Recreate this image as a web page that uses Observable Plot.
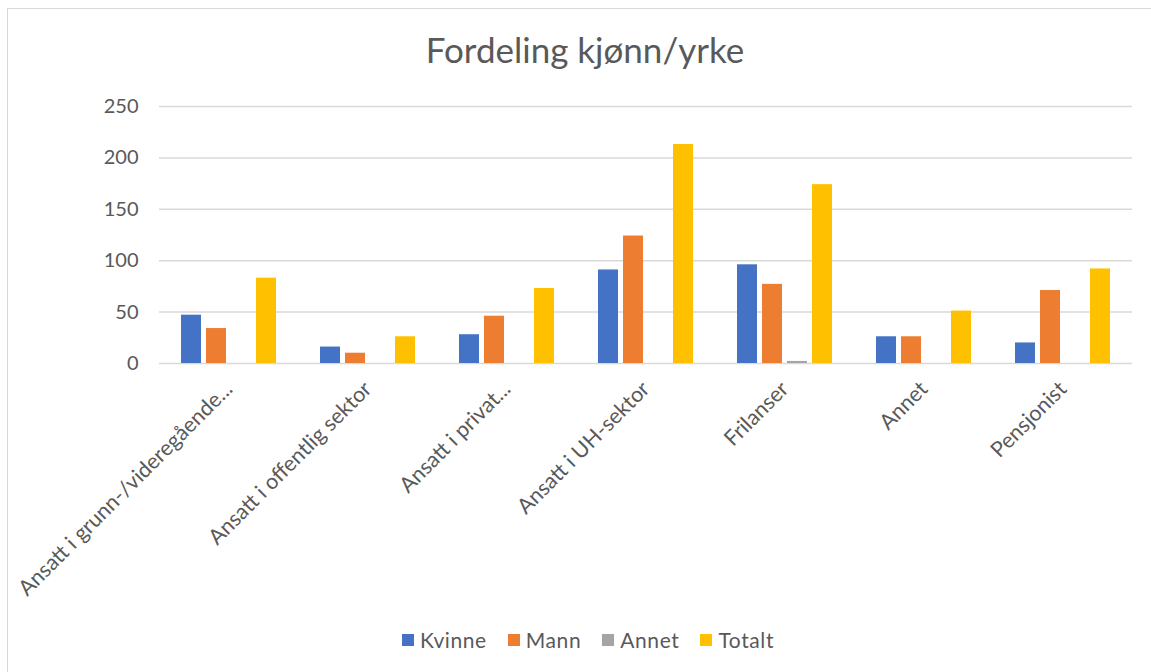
<!DOCTYPE html>
<html>
<head>
<meta charset="utf-8">
<script src="https://cdn.jsdelivr.net/npm/d3@7"></script>
<script src="https://cdn.jsdelivr.net/npm/@observablehq/plot@0.6"></script>
<style>
  html, body { margin: 0; padding: 0; background: #fff; }
  body { width: 1151px; height: 672px; overflow: hidden; position: relative; font-family: Lato, "Open Sans", sans-serif; color: #595959; }
  #frame { position: absolute; left: 7px; top: 8px; width: 1170px; height: 700px; border: 1.5px solid #d9d9d9; box-sizing: border-box; }
  #title { position: absolute; left: 0; width: 1170px; top: 28px; text-align: center; font-size: 35px; color: #595959; }
  #chart { position: absolute; left: 0; top: 75px; }
  #legend { position: absolute; left: 0; width: 1176px; top: 627px; display: flex; justify-content: center; gap: 21px; font-size: 21px; letter-spacing: 0.6px; color: #595959; }
  .item { display: flex; align-items: center; gap: 6px; }
  .sw { width: 12px; height: 12px; display: inline-block; }
</style>
</head>
<body>
<div id="frame"></div>
<div id="title">Fordeling kjønn/yrke</div>
<div id="chart"></div>
<div id="legend"></div>
<script>
const categories = [
  "Ansatt i grunn-/videregående...",
  "Ansatt i offentlig sektor",
  "Ansatt i privat...",
  "Ansatt i UH-sektor",
  "Frilanser",
  "Annet",
  "Pensjonist"
];
const seriesNames = ["Kvinne", "Mann", "Annet", "Totalt"];
const seriesColors = ["#4472c4", "#ed7d31", "#a5a5a5", "#ffc000"];
const kvinne = [47, 16, 28, 91, 96, 26, 20];
const mann   = [34, 10, 46, 124, 77, 26, 71];
const annet  = [0, 0, 0, 0, 2, 0, 0];
const totalt = [83, 26, 73, 213, 174, 51, 92];
const yTicks = [0, 50, 100, 150, 200, 250];

const seriesValues = [kvinne, mann, annet, totalt];
const data = [];
categories.forEach((c, i) => {
  seriesNames.forEach((s, j) => {
    data.push({category: c, series: s, value: seriesValues[j][i]});
  });
});

const chart = Plot.plot({
  width: 1151,
  height: 528,
  marginLeft: 158,
  marginRight: 19,
  marginTop: 31,
  marginBottom: 240,
  style: {fontFamily: "Lato, 'Open Sans', sans-serif", fontSize: "20px", color: "#595959", background: "transparent", overflow: "visible"},
  fx: {domain: categories, padding: 0, label: null, tickSize: 0, tickPadding: 22, tickRotate: -45},
  x: {domain: seriesNames, paddingInner: 0.21, paddingOuter: 0.85, axis: null},
  y: {domain: [0, 250], ticks: yTicks, label: null, tickSize: 0, tickPadding: 21},
  color: {domain: seriesNames, range: seriesColors},
  marks: [
    Plot.ruleY(yTicks, {stroke: "#d9d9d9", strokeWidth: 1.5}),
    Plot.barY(data, {fx: "category", x: "series", y: "value", fill: "series"})
  ]
});
chart.querySelectorAll('[aria-label="fx-axis tick label"] text').forEach(t => t.style.fontSize = "21.5px");
document.getElementById("chart").appendChild(chart);

const legend = document.getElementById("legend");
seriesNames.forEach((s, j) => {
  const item = document.createElement("div");
  item.className = "item";
  const sw = document.createElement("span");
  sw.className = "sw";
  sw.style.background = seriesColors[j];
  const t = document.createElement("span");
  t.textContent = s;
  item.appendChild(sw);
  item.appendChild(t);
  legend.appendChild(item);
});
</script>
</body>
</html>
